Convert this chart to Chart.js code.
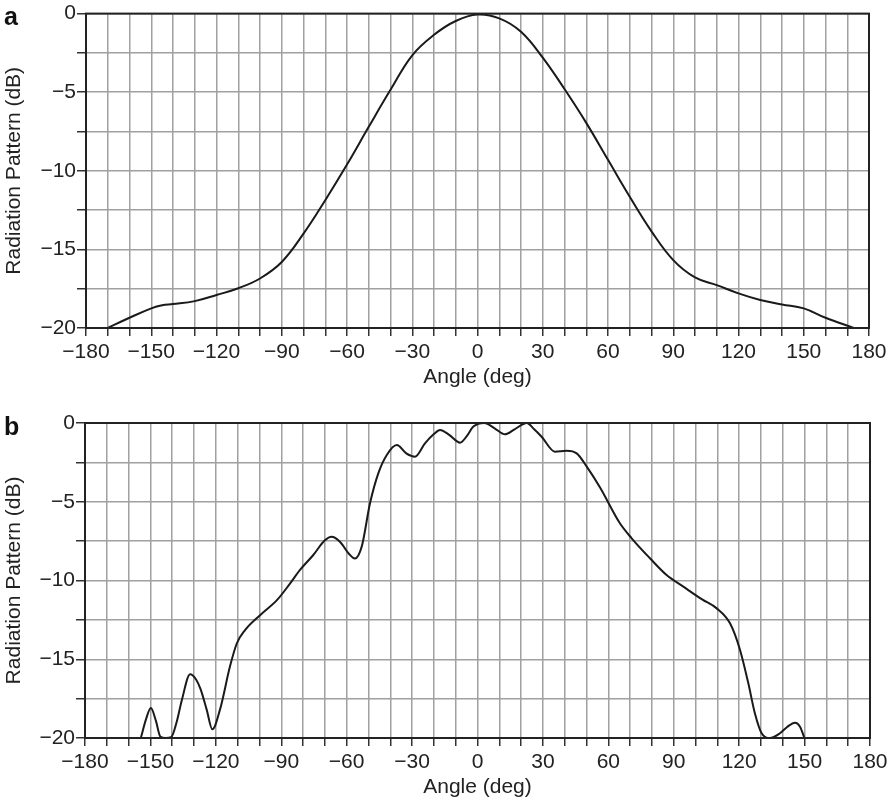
<!DOCTYPE html>
<html>
<head>
<meta charset="utf-8">
<title>Radiation Pattern</title>
<script src="https://cdn.jsdelivr.net/npm/chart.js@4"></script>
<style>
  html, body { margin: 0; padding: 0; background: #fff; }
  #wrap { position: relative; width: 895px; height: 802px; }
  #wrap canvas { position: absolute; left: 0; }
  #chartA { top: 0; }
  #chartB { top: 400px; }
</style>
</head>
<body>
<div id="wrap">
  <canvas id="chartA" width="895" height="400"></canvas>
  <canvas id="chartB" width="895" height="402"></canvas>
</div>
<script>
// panel a: smooth main lobe
const angleA = [-170, -160, -150, -145, -140, -130, -120, -110, -100, -90, -80, -70, -60, -50, -40, -30, -20, -10, 0,
  10, 20, 30, 40, 50, 60, 70, 80, 90, 100, 110, 120, 130, 140, 150, 160, 173];
const patternA = [-20, -19.35, -18.75, -18.55, -18.48, -18.29, -17.9, -17.47, -16.85, -15.8, -14.0, -11.87, -9.6, -7.2, -4.85, -2.65, -1.35, -0.47, -0.06,
  -0.3, -1.15, -2.8, -4.8, -6.95, -9.3, -11.65, -13.85, -15.68, -16.78, -17.27, -17.8, -18.22, -18.5, -18.75, -19.35, -20];

// panel b: rippled pattern
const angleB = [-154.3, -152, -149.8, -147.5, -145.5, -143, -140.5, -138, -135.6, -131.8, -129, -127, -124.2, -121.6, -118.1,
  -113.5, -110.4, -106.6, -99.7, -92, -86, -81.4, -75.3, -70, -66.9, -63, -59, -56.2, -53.1, -49.3, -45.5, -41.6, -37,
  -32.5, -28.7, -24.1, -20, -17.2, -13, -8, -5, -1.9, 3.1, 8, 12.6, 17, 22.6, 26, 29.4, 35.5, 40.9, 45.5, 50.1, 56.2,
  65.3, 70.7, 79.1, 86.7, 94.4, 103, 109.7, 115.8, 120.4, 124.2, 127.2, 130.3, 134.1, 138.7, 142, 145.6, 147.9, 149.8];
const patternB = [-19.95, -18.8, -18.1, -18.9, -19.9, -20, -19.95, -19.0, -17.6, -15.95, -16.3, -16.9, -18.2, -19.45, -18.2,
  -15.45, -14.0, -13.15, -12.2, -11.25, -10.2, -9.33, -8.38, -7.45, -7.22, -7.55, -8.3, -8.6, -7.85, -5.1, -3.2, -2.03, -1.4,
  -1.95, -2.14, -1.29, -0.7, -0.44, -0.75, -1.25, -0.85, -0.23, 0, -0.35, -0.72, -0.4, 0, -0.4, -0.87, -1.82, -1.76, -1.93, -2.77, -4.1,
  -6.37, -7.32, -8.59, -9.65, -10.39, -11.2, -11.77, -12.72, -14.41, -16.53, -18.43, -19.7, -20, -19.7, -19.3, -19.03, -19.28, -19.95];

const angleRange = [-180, 180];
const angleStep = 10;
const angleLabelEvery = 30;
const dbRange = [-20, 0];
const dbStep = 2.5;
const dbLabelEvery = 5;

const FONT = '"Liberation Sans", Arial, Helvetica, sans-serif';
const INK = '#222';

function fmt(v) {
  return v < 0 ? '\u2212' + Math.abs(v) : String(v);
}

// box around the plot area plus the bold panel letter
const framePlugin = {
  id: 'frame',
  afterDraw(chart, args, opts) {
    const { ctx, chartArea: a } = chart;
    ctx.save();
    ctx.strokeStyle = INK;
    ctx.lineWidth = 2;
    ctx.strokeRect(a.left, a.top, a.right - a.left, a.bottom - a.top);
    ctx.fillStyle = '#111';
    ctx.font = 'bold 25px ' + FONT;
    ctx.textBaseline = 'alphabetic';
    ctx.fillText(opts.letter, opts.x, opts.y);
    ctx.restore();
  }
};

function makeChart(id, xs, ys, box) {
  const points = xs.map((x, i) => ({ x: x, y: ys[i] }));
  return new Chart(document.getElementById(id), {
    type: 'line',
    data: {
      datasets: [{
        data: points,
        borderColor: '#1a1a1a',
        borderWidth: 2,
        pointRadius: 0,
        tension: 0.4,
        cubicInterpolationMode: box.curve,
        fill: false
      }]
    },
    options: {
      responsive: false,
      animation: false,
      events: [],
      layout: { padding: { top: box.top, right: box.right, left: 0, bottom: 0 } },
      plugins: {
        legend: { display: false },
        tooltip: { enabled: false },
        frame: { letter: box.letter, x: 4, y: box.letterY }
      },
      scales: {
        x: {
          type: 'linear',
          min: angleRange[0],
          max: angleRange[1],
          afterFit: s => { s.height = box.axisH; },
          border: { display: true, color: INK, width: 2 },
          grid: { color: '#a0a0a0', lineWidth: 1.5, tickColor: '#333', tickLength: 8, tickWidth: 1.5 },
          ticks: {
            stepSize: angleStep,
            autoSkip: false,
            maxRotation: 0,
            minRotation: 0,
            padding: 4,
            color: INK,
            font: { family: FONT, size: 21 },
            callback: v => (v % angleLabelEvery === 0 ? fmt(v) : '')
          },
          title: {
            display: true,
            text: 'Angle (deg)',
            color: INK,
            font: { family: FONT, size: 21 },
            padding: { top: 0, bottom: box.titlePad }
          }
        },
        y: {
          min: dbRange[0],
          max: dbRange[1],
          afterFit: s => { s.width = box.left; },
          border: { display: true, color: INK, width: 2 },
          grid: { color: '#a0a0a0', lineWidth: 1.5, tickColor: '#333', tickLength: 9, tickWidth: 1.5 },
          ticks: {
            stepSize: dbStep,
            padding: 1,
            color: INK,
            font: { family: FONT, size: 21 },
            callback: v => (v % dbLabelEvery === 0 ? fmt(v) : '')
          },
          title: {
            display: true,
            text: 'Radiation Pattern (dB)',
            color: INK,
            font: { family: FONT, size: 21 },
            padding: { top: 2, bottom: 0 }
          }
        }
      }
    },
    plugins: [framePlugin]
  });
}

makeChart('chartA', angleA, patternA, { top: 13, right: 26, left: 86, axisH: 72, titlePad: 10, letter: 'a', letterY: 25, curve: 'default' });
makeChart('chartB', angleB, patternB, { top: 23, right: 25, left: 85, axisH: 64, titlePad: 2, letter: 'b', letterY: 35, curve: 'monotone' });
</script>
</body>
</html>
